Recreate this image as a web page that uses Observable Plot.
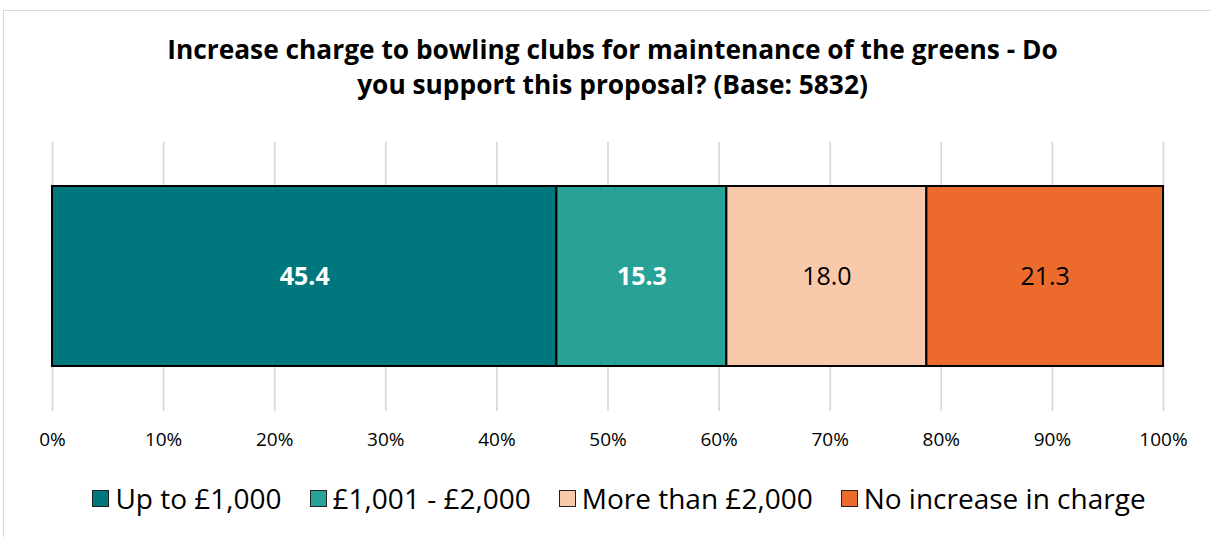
<!DOCTYPE html>
<html>
<head>
<meta charset="utf-8">
<script src="https://cdn.jsdelivr.net/npm/d3@7"></script>
<script src="https://cdn.jsdelivr.net/npm/@observablehq/plot@0.6"></script>
<style>
  html, body { margin: 0; padding: 0; background: #fff; overflow: hidden; }
  body { width: 1211px; height: 537px; position: relative; font-family: "Open Sans", sans-serif; }
  #frame { position: absolute; left: 3px; top: 10px; width: 1220px; height: 560px; border: 1.5px solid #d9d9d9; box-sizing: border-box; }
  #title { position: absolute; left: 0; top: 32px; width: 1225px; text-align: center; font-weight: bold; font-size: 26.3px; line-height: 35px; color: #000; }
  #chart { position: absolute; left: 0; top: 120px; }
  #legend { position: absolute; left: 0; top: 479px; height: 38px; width: 1238px; display: flex; justify-content: center; align-items: center; font-size: 28px; color: #000; }
  .item { display: flex; align-items: center; margin: 0 14px; }
  .sw { width: 17px; height: 17px; border: 1.5px solid #222; margin-right: 6px; box-sizing: border-box; }
</style>
</head>
<body>
<div id="frame"></div>
<div id="title">Increase charge to bowling clubs for maintenance of the greens - Do<br>you support this proposal? (Base: 5832)</div>
<div id="chart"></div>
<div id="legend"></div>
<script>
const categories = ["Up to £1,000", "£1,001 - £2,000", "More than £2,000", "No increase in charge"];
const values = [45.4, 15.3, 18.0, 21.3];
const colors = ["#00767d", "#28a297", "#f8c9aa", "#ec6b2c"];
const whiteLabels = ["Up to £1,000", "£1,001 - £2,000"];
const xTicks = [0, 10, 20, 30, 40, 50, 60, 70, 80, 90, 100];

const data = categories.map((c, i) => ({category: c, value: values[i], row: "all"}));

const plot = Plot.plot({
  width: 1211,
  height: 345,
  marginLeft: 52,
  marginRight: 48,
  marginTop: 22,
  marginBottom: 54,
  style: {fontFamily: "'Open Sans', sans-serif", fontSize: "19px", background: "transparent", color: "#000"},
  x: {domain: [0, 100], label: null},
  y: {domain: ["all"], padding: 0.196, axis: null, label: null},
  color: {domain: categories, range: colors},
  marks: [
    Plot.gridX(xTicks, {stroke: "#d9d9d9", strokeOpacity: 1, strokeWidth: 1.75}),
    Plot.axisX({ticks: xTicks, tickFormat: d => d + "%", tickSize: 0, tickPadding: 21, fontSize: 19, fill: "#000", label: null}),
    Plot.barX(data, Plot.stackX({x: "value", y: "row", fill: "category", stroke: "#000", strokeWidth: 2, order: null})),
    Plot.text(data, Plot.stackX({x: "value", y: "row", order: null,
      text: d => whiteLabels.includes(d.category) ? d.value.toFixed(1) : "",
      fill: "#fff", fontWeight: "bold", fontSize: 25})),
    Plot.text(data, Plot.stackX({x: "value", y: "row", order: null,
      text: d => whiteLabels.includes(d.category) ? "" : d.value.toFixed(1),
      fill: "#000", fontSize: 25}))
  ]
});
document.getElementById("chart").appendChild(plot);

const legend = document.getElementById("legend");
categories.forEach((c, i) => {
  const it = document.createElement("div");
  it.className = "item";
  const sw = document.createElement("div");
  sw.className = "sw";
  sw.style.background = colors[i];
  const t = document.createElement("span");
  t.textContent = c;
  it.appendChild(sw); it.appendChild(t);
  legend.appendChild(it);
});
</script>
</body>
</html>
